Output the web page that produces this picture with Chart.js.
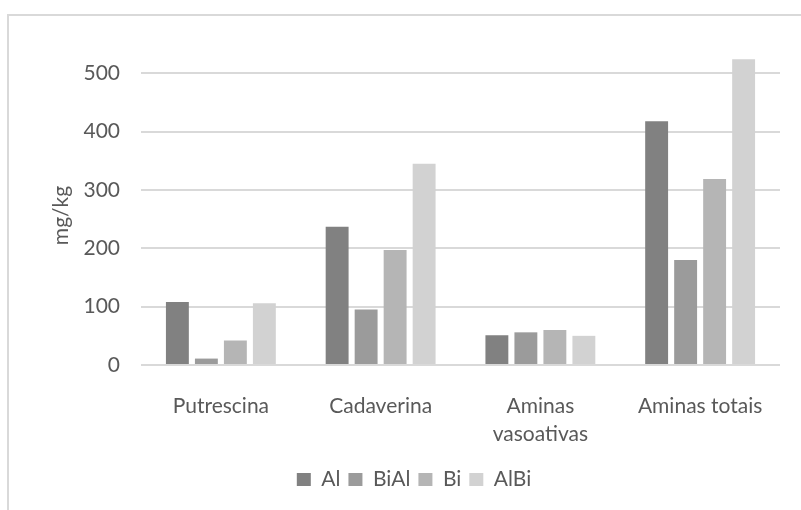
<!DOCTYPE html>
<html>
<head>
<meta charset="utf-8">
<script src="https://cdn.jsdelivr.net/npm/chart.js@4.4.1/dist/chart.umd.min.js"></script>
<style>
  html, body { margin: 0; padding: 0; overflow: hidden; background: #ffffff; }
  #wrap { position: relative; width: 801px; height: 510px; overflow: hidden; }
  #frame { position: absolute; left: 7px; top: 14px; width: 900px; height: 600px;
           border: 2px solid #d9d9d9; box-sizing: border-box; }
  #c { position: absolute; left: 0; top: 0; }
</style>
</head>
<body>
<div id="wrap">
  <div id="frame"></div>
  <canvas id="c" width="801" height="510"></canvas>
</div>
<script>
// Biogenic amine contents (mg/kg) per treatment
const categories = ['Putrescina', 'Cadaverina', ['Aminas', 'vasoativas'], 'Aminas totais'];
const seriesNames = ['Al', 'BiAl', 'Bi', 'AlBi'];
const valuesAl   = [108, 237, 51, 418];
const valuesBiAl = [11, 95, 56, 180];
const valuesBi   = [42, 197, 60, 319];
const valuesAlBi = [106, 345, 50, 524];
const yTicks = [0, 100, 200, 300, 400, 500];
const yAxisTitle = 'mg/kg';

const colors = ['#818181', '#9b9b9b', '#b5b5b5', '#d2d2d2'];
const textColor = '#595959';
const fontFamily = 'Lato, "Open Sans", sans-serif';

Chart.defaults.font.family = fontFamily;
Chart.defaults.font.size = 21;
Chart.defaults.color = textColor;

const seriesValues = [valuesAl, valuesBiAl, valuesBi, valuesAlBi];

// Vertical axis title, drawn rotated beside the value axis
const axisTitlePlugin = {
  id: 'axisTitle',
  afterDraw(chart) {
    const { ctx, chartArea } = chart;
    const yScale = chart.scales.y;
    ctx.save();
    ctx.translate(yScale.left + 20, (chartArea.top + chartArea.bottom) / 2 + 8);
    ctx.rotate(-Math.PI / 2);
    ctx.font = '21px ' + fontFamily;
    ctx.fillStyle = textColor;
    ctx.textAlign = 'center';
    ctx.textBaseline = 'alphabetic';
    ctx.fillText(yAxisTitle, 0, 0);
    ctx.restore();
  }
};

new Chart(document.getElementById('c'), {
  type: 'bar',
  data: {
    labels: categories,
    datasets: seriesNames.map((name, i) => ({
      label: name,
      data: seriesValues[i],
      backgroundColor: colors[i],
      borderWidth: 0,
      categoryPercentage: 0.726,
      barPercentage: 0.79
    }))
  },
  plugins: [axisTitlePlugin],
  options: {
    responsive: false,
    animation: false,
    devicePixelRatio: 1,
    layout: { padding: { top: 50, left: 48, right: 21, bottom: 10 } },
    plugins: {
      tooltip: { enabled: false },
      legend: {
        position: 'bottom',
        labels: {
          boxWidth: 14,
          boxHeight: 13,
          padding: 8,
          color: textColor,
          font: { family: fontFamily, size: 21 }
        }
      }
    },
    scales: {
      x: {
        grid: { display: false },
        border: { display: false },
        ticks: {
          color: textColor,
          padding: 19,
          maxRotation: 0,
          autoSkip: false,
          font: { family: fontFamily, size: 21, lineHeight: 1.33 }
        },
        afterFit(scale) { scale.height = 96; }
      },
      y: {
        min: 0,
        max: 540,
        grid: { color: '#d9d9d9', lineWidth: 2, drawTicks: false },
        border: { display: false },
        ticks: {
          stepSize: 100,
          color: textColor,
          padding: 21,
          font: { family: fontFamily, size: 21 }
        },
        afterBuildTicks(scale) {
          scale.ticks = yTicks.map(v => ({ value: v }));
        },
        title: { display: false },
        afterFit(scale) { scale.width = 93; }
      }
    }
  }
});
</script>
</body>
</html>
